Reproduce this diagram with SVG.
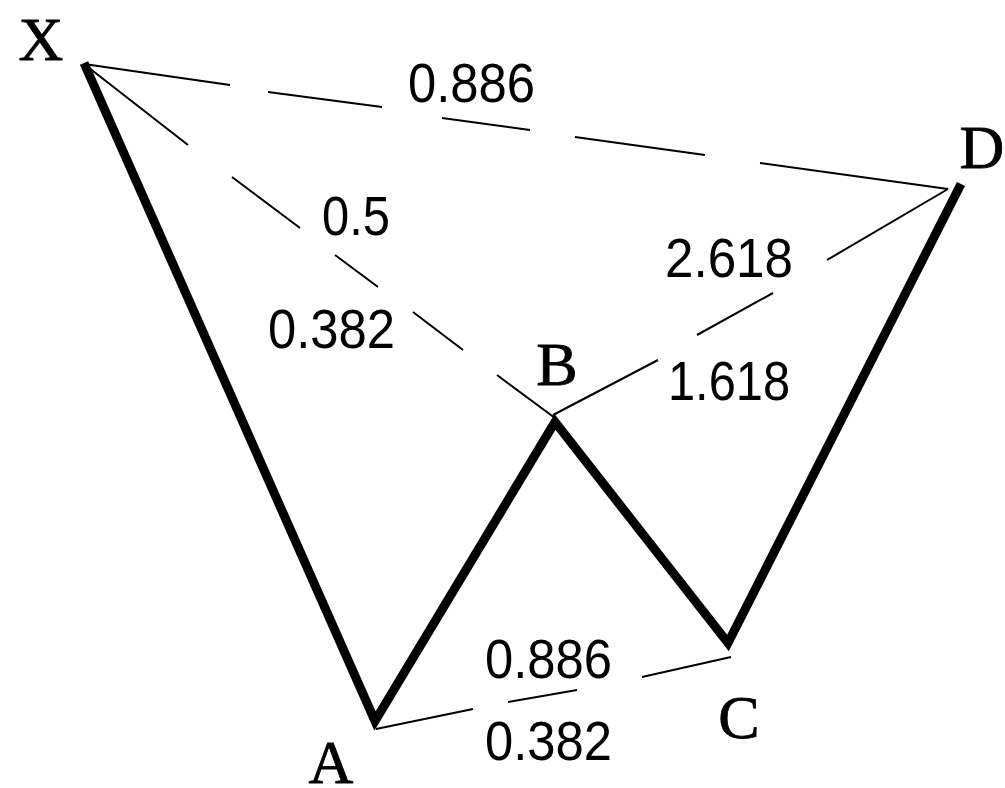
<svg xmlns="http://www.w3.org/2000/svg" width="1005" height="788" viewBox="0 0 1005 788">
<style>
.thin{stroke:#000;stroke-width:2;fill:none}
.thick{stroke:#000;stroke-width:9;fill:none;stroke-linejoin:miter;stroke-miterlimit:10}
.num{font-family:"Liberation Sans",Arial,sans-serif;font-size:56px;fill:#000}
.pt{font-family:"Liberation Serif","Times New Roman",serif;font-size:62px;fill:#000;stroke:#000;stroke-width:0.8;text-anchor:middle}
</style>
<rect width="1005" height="788" fill="#fff"/>
<g id="connectors">
<g id="ratio-lines">
<path class="thin" d="M84,64 L230,85 M268,92 L382,107 M442,118 L530,130 M575,137 L705,155 M760,163 L948,189"/>
<path class="thin" d="M84,64 L188,145 M232,177 L300,228 M335,255 L378,287 M413,312 L463,350 M497,375 L555,418"/>
<path class="thin" d="M553,415 L658,360 M697,335 L773,293 M827,260 L948,189"/>
<path class="thin" d="M376,729 L473,709 M508,702 L577,690 M642,677 L731,657"/>
</g>
<polyline id="price-path" class="thick" points="84,63 375,721 555,422 728,643 961,184"/>
</g>
<g id="label-X"><text class="pt" x="41" y="60">X</text></g>
<g id="label-A"><text class="pt" x="331" y="783">A</text></g>
<g id="label-B"><text class="pt" x="557" y="385">B</text></g>
<g id="label-C"><text class="pt" x="739" y="738">C</text></g>
<g id="label-D"><text class="pt" x="982" y="168">D</text></g>
<g id="ratios">
<text class="num" x="408" y="102" textLength="127" lengthAdjust="spacingAndGlyphs">0.886</text>
<text class="num" x="322" y="235" textLength="68" lengthAdjust="spacingAndGlyphs">0.5</text>
<text class="num" x="268" y="348" textLength="127" lengthAdjust="spacingAndGlyphs">0.382</text>
<text class="num" x="665" y="277" textLength="128" lengthAdjust="spacingAndGlyphs">2.618</text>
<text class="num" x="668" y="400" textLength="122" lengthAdjust="spacingAndGlyphs">1.618</text>
<text class="num" x="485" y="678" textLength="127" lengthAdjust="spacingAndGlyphs">0.886</text>
<text class="num" x="485" y="760" textLength="127" lengthAdjust="spacingAndGlyphs">0.382</text>
</g>
</svg>
